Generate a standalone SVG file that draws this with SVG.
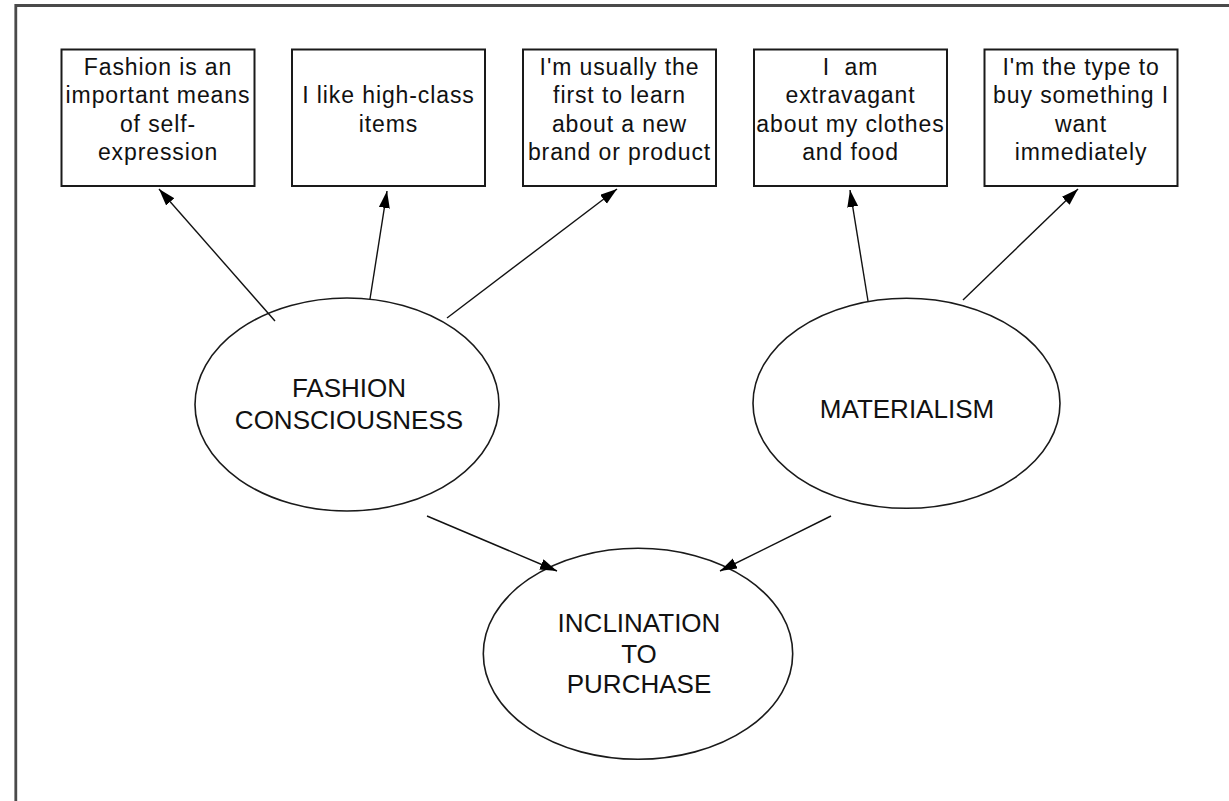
<svg xmlns="http://www.w3.org/2000/svg" width="1229" height="801" viewBox="0 0 1229 801">
<style>
.box{fill:#fff;stroke:#1a1a1a;stroke-width:2}
.ell{fill:#fff;stroke:#1a1a1a;stroke-width:1.6}
.bt{font-family:"Liberation Sans",Arial,sans-serif;font-size:23px;letter-spacing:0.9px;fill:#111;text-anchor:middle}
.et{font-family:"Liberation Sans",Arial,sans-serif;font-size:26px;fill:#111;text-anchor:middle}
.conn line{stroke:#111;stroke-width:1.4;marker-end:url(#ah)}
</style>
<defs>
<marker id="ah" markerUnits="userSpaceOnUse" markerWidth="18" markerHeight="12" refX="17" refY="5.5" orient="auto">
<path d="M0,0 L17,5.5 L0,11 z" fill="#000"/>
</marker>
</defs>
<rect width="1229" height="801" fill="#fff"/>
<path d="M15.8,801 V5.5 H1229" fill="none" stroke="#4a4a4a" stroke-width="2.8"/>

<g id="box1">
<rect class="box" x="61.5" y="49.5" width="193" height="136.5"/>
<text class="bt" x="158" y="74.5">Fashion is an</text>
<text class="bt" x="158" y="103">important means</text>
<text class="bt" x="158" y="131.5">of self-</text>
<text class="bt" x="158" y="160">expression</text>
</g>
<g id="box2">
<rect class="box" x="292" y="49.5" width="193" height="136.5"/>
<text class="bt" x="388.5" y="103">I like high-class</text>
<text class="bt" x="388.5" y="131.5">items</text>
</g>
<g id="box3">
<rect class="box" x="523" y="49.5" width="193" height="136.5"/>
<text class="bt" x="619.5" y="74.5">I'm usually the</text>
<text class="bt" x="619.5" y="103">first to learn</text>
<text class="bt" x="619.5" y="131.5">about a new</text>
<text class="bt" x="619.5" y="160">brand or product</text>
</g>
<g id="box4">
<rect class="box" x="754" y="49.5" width="193" height="136.5"/>
<text class="bt" x="850.5" y="74.5" xml:space="preserve">I  am</text>
<text class="bt" x="850.5" y="103">extravagant</text>
<text class="bt" x="850.5" y="131.5">about my clothes</text>
<text class="bt" x="850.5" y="160">and food</text>
</g>
<g id="box5">
<rect class="box" x="984.5" y="49.5" width="193" height="136.5"/>
<text class="bt" x="1081" y="74.5">I'm the type to</text>
<text class="bt" x="1081" y="103">buy something I</text>
<text class="bt" x="1081" y="131.5">want</text>
<text class="bt" x="1081" y="160">immediately</text>
</g>

<g id="fashion">
<ellipse class="ell" cx="347" cy="404.5" rx="152" ry="106.5"/>
<text class="et" x="349" y="397">FASHION</text>
<text class="et" x="349" y="429">CONSCIOUSNESS</text>
</g>
<g id="materialism">
<ellipse class="ell" cx="906.5" cy="403.3" rx="153.5" ry="105"/>
<text class="et" x="907" y="417.5">MATERIALISM</text>
</g>
<g id="inclination">
<ellipse class="ell" cx="638" cy="653.8" rx="154.7" ry="105.5"/>
<text class="et" x="639" y="631.7">INCLINATION</text>
<text class="et" x="639" y="662.5">TO</text>
<text class="et" x="639" y="693.3">PURCHASE</text>
</g>

<g id="connectors" class="conn">
<line x1="275" y1="321" x2="159" y2="189"/>
<line x1="370" y1="299" x2="387" y2="191"/>
<line x1="447" y1="318" x2="617" y2="189"/>
<line x1="868" y1="301" x2="850" y2="190"/>
<line x1="963" y1="300" x2="1078" y2="189"/>
<line x1="427" y1="516" x2="557" y2="571"/>
<line x1="831" y1="516" x2="720" y2="571"/>
</g>
</svg>
